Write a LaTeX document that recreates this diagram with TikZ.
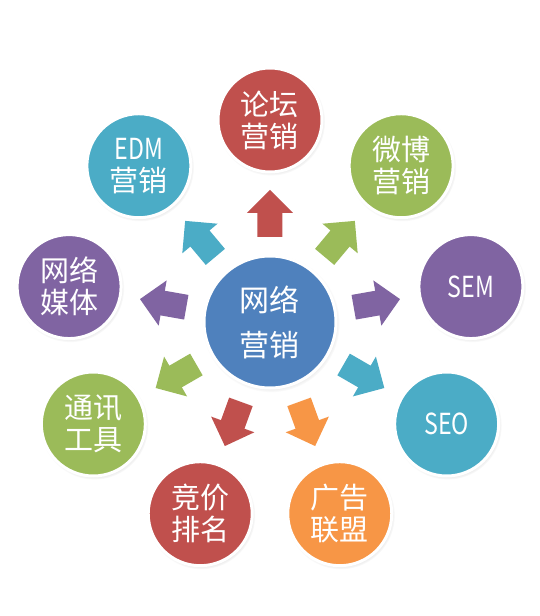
\documentclass[tikz,border=0pt]{standalone}
\usepackage{fontspec}
\newfontfamily\cjk{Noto Sans CJK SC}
\newfontfamily\cjknarrow[FakeStretch=0.8]{Noto Sans CJK SC}
\usetikzlibrary{shadows}
\definecolor{ored}{HTML}{C0504D}
\definecolor{oblue}{HTML}{4F81BD}
\definecolor{ogreen}{HTML}{9BBB59}
\definecolor{opurple}{HTML}{8064A2}
\definecolor{oaqua}{HTML}{4BACC6}
\definecolor{oorange}{HTML}{F79646}
\begin{document}
\begin{tikzpicture}[x=1pt,y=1pt,
  bubble/.style={circle, draw=white, line width=3pt, minimum size=104pt, inner sep=0pt,
    text=white, align=center, font=\cjk\fontsize{29}{32}\selectfont,
    circular drop shadow={shadow xshift=1pt, shadow yshift=-1.5pt, shadow scale=1.04, opacity=0.35}},
  narrowtext/.style={font=\cjknarrow\fontsize{29}{32}\selectfont}]
\useasboundingbox (-270,-294) rectangle (270,322);
\fill[white] (-270,-294) rectangle (270,322);

% block arrows
\foreach \a/\c in {90/ored, 50/ogreen, 10/opurple, -30/oaqua, -70/oorange, -110/ored, -150/ogreen, 170/opurple, 130/oaqua}{
  \fill[\c, rotate=\a] (85,-12.5) -- (109,-12.5) -- (109,-23) -- (132,0) -- (109,23) -- (109,12.5) -- (85,12.5) -- cycle;
}

\node[bubble, fill=oblue, minimum size=132pt, font=\cjk\fontsize{30}{45}\selectfont] (center) at (0,0) {网络\\营销};

\node[bubble, fill=ored] (luntan) at (90:202pt) {论坛\\营销};
\node[bubble, fill=ogreen] (weibo) at (50:204pt) {微博\\营销};
\node[bubble, fill=opurple, narrowtext] (sem) at (10:204pt) {SEM};
\node[bubble, fill=oaqua, narrowtext] (seo) at (-30:204pt) {SEO};
\node[bubble, fill=oorange] (guanggao) at (-70:204pt) {广告\\联盟};
\node[bubble, fill=ored] (jingjia) at (-110:204pt) {竞价\\排名};
\node[bubble, fill=ogreen] (tongxun) at (-150:204pt) {通讯\\工具};
\node[bubble, fill=opurple] (meiti) at (170:204pt) {网络\\媒体};
\node[bubble, fill=oaqua] (edm) at (130:204pt) {{\cjknarrow EDM}\\营销};
\end{tikzpicture}
\end{document}
